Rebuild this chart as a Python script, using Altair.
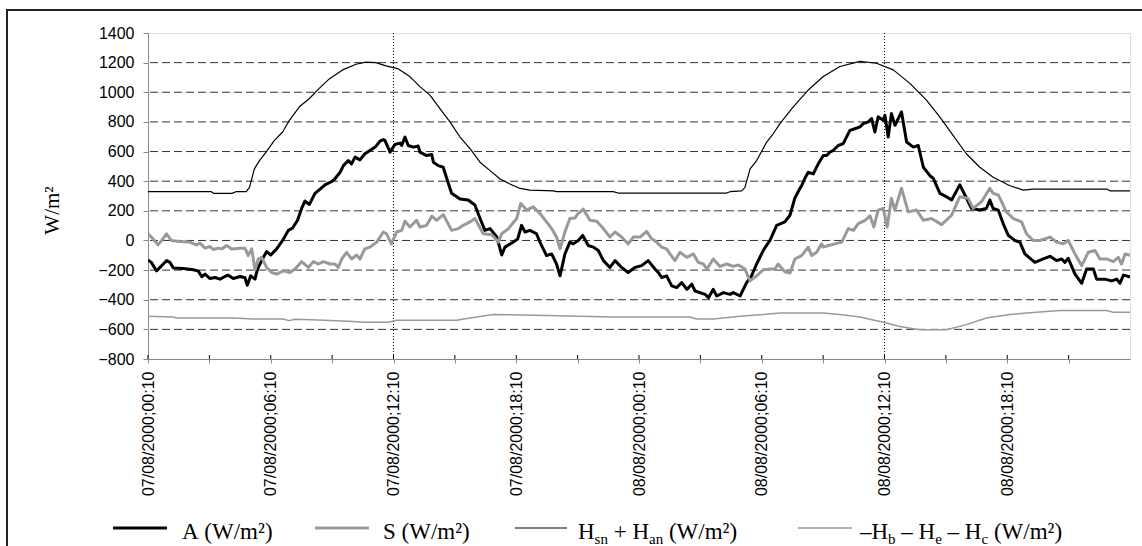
import altair as alt
import pandas as pd

# ---------------- data (hours after 07/08/2000 00:10, W/m2) ----------------
A_h = [0, 0.16, 0.42, 0.75, 0.91, 1.07, 1.24, 1.73, 2.22, 2.46, 2.63, 2.79, 3.03, 3.28, 3.52, 3.76, 3.92,
       4.17, 4.5, 4.74, 4.85, 5.02, 5.23, 5.35, 5.64, 5.8, 6.0, 6.29, 6.58, 6.86, 7.07, 7.31, 7.51, 7.67,
       7.89, 8.16, 8.37, 8.65, 8.98, 9.1, 9.39, 9.55, 9.79, 9.95, 10.12, 10.36, 10.6, 10.85, 11.1, 11.34,
       11.5, 11.58, 11.83, 12.07, 12.32, 12.4, 12.56, 12.72, 12.97, 13.21, 13.29, 13.62, 13.87, 13.95,
       14.19, 14.43, 14.6, 14.84, 15.25, 15.65, 15.98, 16.23, 16.47, 16.72, 17.05, 17.29, 17.45, 17.86,
       18.07, 18.26, 18.43, 18.67, 18.99, 19.16, 19.48, 19.73, 19.97, 20.14, 20.38, 20.62, 20.79, 21.03,
       21.25, 21.52, 21.77, 22.01, 22.26, 22.58, 22.83, 23.15, 23.47, 23.8, 24.13, 24.45, 24.78, 24.94,
       25.11, 25.35, 25.6, 25.84, 26.09, 26.34, 26.58, 26.74, 27.23, 27.4, 27.63, 27.8, 28.13, 28.45,
       28.61, 28.94, 29.26, 29.5, 29.75, 30.07, 30.4, 30.73, 31.13, 31.38, 31.62, 31.87, 31.95, 32.11,
       32.27, 32.52, 32.76, 33.01, 33.17, 33.33, 33.49, 33.74, 33.98, 34.31, 34.55, 34.8, 34.96, 35.21,
       35.37, 35.53, 35.69, 35.94, 36.02, 36.18, 36.34, 36.51, 36.83, 37.08, 37.41, 37.65, 37.9, 38.22,
       38.38, 38.71, 39.03, 39.28, 39.68, 39.93, 40.25, 40.66, 40.98, 41.15, 41.31, 41.56, 41.8, 42.05,
       42.37, 42.62, 42.86, 43.35, 43.76, 44.09, 44.41, 44.66, 44.82, 44.98, 45.31, 45.64, 45.88, 46.21,
       46.37, 46.77, 47.1, 47.35, 47.51, 47.68, 47.84, 48.0]
A_v = [-132, -148, -205, -159, -136, -148, -186, -189, -198, -207, -245, -227, -257, -250, -261, -243, -234,
       -257, -243, -252, -302, -239, -261, -193, -114, -75, -98, -57, 0, 68, 84, 136, 216, 266,
       243, 318, 341, 375, 398, 410, 460, 505, 539, 517, 562, 544, 585, 607, 630, 670,
       680, 675, 596, 648, 657, 641, 698, 641, 630, 637, 596, 573, 580, 528,
       505, 494, 420, 318, 280, 273, 239, 148, 68, 80, 23, -98, -45, -11,
       11, 102, 57, 68, 45, -11, -102, -91, -159, -239, -91, -11, -23, 0,
       34, -34, -45, -68, -136, -182, -136, -182, -216, -182, -170, -136, -193, -216,
       -250, -239, -307, -318, -284, -330, -295, -341, -364, -386, -330, -375, -352, -364,
       -352, -375, -284, -239, -159, -68, 0, 102, 125, 170, 287, 352, 369, 420,
       460, 449, 517, 573, 573, 596, 607, 641, 653, 743, 754, 766, 788, 800,
       822, 732, 834, 811, 845, 698, 856, 777, 868, 664, 630, 641, 494, 437,
       420, 318, 295, 273, 375, 307, 216, 205, 216, 273, 216, 205, 114, 34,
       0, -11, -91, -148, -125, -107, -136, -125, -148, -120, -227, -289, -193, -193,
       -261, -261, -273, -261, -289, -234, -239, -248]

S_h = [0, 0.24, 0.49, 0.73, 0.9, 1.14, 1.55, 2.04, 2.37, 2.54, 2.79, 3.03, 3.19, 3.44, 3.6, 3.85, 4.09,
       4.5, 4.74, 4.9, 5.07, 5.23, 5.39, 5.55, 5.8, 6.04, 6.29, 6.61, 6.94, 7.18, 7.51, 7.84, 8.08, 8.33,
       8.57, 8.9, 9.14, 9.3, 9.47, 9.71, 9.95, 10.2, 10.36, 10.6, 10.85, 11.18, 11.5, 11.66, 11.9, 12.15,
       12.4, 12.56, 12.8, 13.13, 13.29, 13.62, 13.87, 14.11, 14.43, 14.84, 15.17, 15.41, 15.74, 15.98,
       16.39, 16.8, 17.13, 17.29, 17.62, 18.02, 18.22, 18.51, 18.83, 19.16, 19.48, 19.73, 19.97, 20.14,
       20.38, 20.62, 20.87, 21.03, 21.28, 21.6, 21.93, 22.26, 22.58, 22.83, 23.15, 23.47, 23.72, 24.05,
       24.37, 24.62, 24.86, 25.11, 25.35, 25.51, 25.76, 26.0, 26.34, 26.66, 26.9, 27.15, 27.32, 27.63,
       27.96, 28.29, 28.61, 28.86, 29.18, 29.43, 29.75, 30.07, 30.4, 30.64, 30.8, 31.13, 31.38, 31.62,
       31.95, 32.27, 32.44, 32.68, 32.93, 33.01, 33.25, 33.58, 33.91, 34.23, 34.48, 34.72, 35.05, 35.29,
       35.48, 35.69, 35.94, 36.13, 36.34, 36.51, 36.83, 37.16, 37.57, 37.9, 38.3, 38.79, 39.28, 39.68,
       40.09, 40.33, 40.74, 41.15, 41.31, 41.56, 41.96, 42.29, 42.7, 42.94, 43.27, 43.6, 44.09, 44.41,
       44.74, 44.98, 45.31, 45.64, 45.96, 46.29, 46.53, 46.86, 47.18, 47.43, 47.59, 47.76, 48.0]
S_v = [45, 11, -30, 11, 45, 0, -7, -11, -30, -18, -52, -41, -61, -52, -57, -34, -57,
       -52, -52, -102, -57, -198, -125, -114, -182, -216, -227, -205, -216, -193, -143, -182, -143, -159,
       -143, -159, -159, -182, -125, -80, -125, -98, -125, -57, -45, -11, 57, 45, -23, 57,
       68, 130, 91, 136, 91, 102, 164, 136, 175, 68, 80, 102, 125, 148,
       45, 39, -11, 45, 80, 148, 250, 205, 227, 182, 125, 80, 23, -57,
       57, 148, 152, 182, 211, 136, 130, 80, 23, 57, 23, -23, 23, 23,
       61, 11, -11, -45, -57, -91, -136, -80, -114, -91, -148, -159, -193, -125,
       -175, -159, -175, -166, -193, -273, -239, -198, -193, -193, -159, -211, -220, -125,
       -102, -45, -102, -80, -23, -45, -34, -23, -11, 80, 68, 114, 136, 166,
       91, 205, 216, 91, 284, 205, 352, 193, 205, 136, 148, 107, 170, 295,
       284, 216, 261, 352, 318, 307, 193, 148, 125, 45, 0, 0, 23, -11,
       -23, 0, -91, -170, -80, -68, -125, -125, -143, -114, -159, -91, -100]

H_h = [0, 3.1, 3.2, 4.1, 4.3, 4.8, 4.96, 5.2, 5.45, 5.77, 6.18, 6.58, 6.91, 7.4, 7.89, 8.37, 8.86, 9.51,
       10.17, 10.65, 11.14, 11.63, 12.2, 12.8, 13.29, 13.78, 14.27, 14.76, 15.25, 15.74, 16.23, 16.72,
       17.21, 17.69, 18.18, 18.67, 19.81, 19.97, 22.74, 22.98, 28.28, 28.45, 29.02, 29.18, 29.43, 29.75,
       30.24, 30.56, 30.89, 31.54, 32.27, 33.01, 33.82, 34.8, 35.61, 36.43, 37.24, 38.05, 38.7, 39.35,
       40.0, 40.66, 41.31, 42.13, 42.78, 43.27, 46.86, 47.02, 48.0]
H_v = [329, 329, 318, 318, 329, 329, 358, 483, 539, 596, 675, 732, 811, 902, 958, 1026, 1090, 1151,
       1189, 1203, 1200, 1178, 1160, 1106, 1038, 981, 890, 800, 698, 619, 528, 471,
       415, 381, 351, 340, 335, 329, 329, 320, 320, 329, 335, 358, 483, 539,
       664, 720, 788, 902, 1015, 1106, 1174, 1208, 1196, 1151, 1060, 947, 834, 709,
       585, 494, 426, 369, 340, 347, 347, 335, 335]

G_h = [0, 1.24, 1.4, 4.17, 5.15, 6.6, 6.9, 7.2, 8.0, 9.8, 10.6, 11.75, 12.15, 15.09, 15.74, 16.88,
       19.48, 22.74, 26.49, 26.82, 27.63, 28.94, 30.07, 30.89, 33.01, 33.82, 34.8, 36.1, 36.75, 37.73,
       39.03, 40.0, 40.98, 42.13, 42.94, 44.57, 46.86, 47.18, 48.0]
G_v = [-511, -516, -523, -523, -530, -530, -541, -532, -535, -545, -552, -552, -539, -539, -523, -500,
       -507, -516, -516, -530, -530, -511, -500, -489, -489, -500, -516, -557, -580, -602,
       -602, -568, -523, -500, -489, -473, -473, -484, -484]

y_ticks = list(range(-800, 1401, 200))
grid_vals = list(range(-600, 1201, 200))
x_ticks = list(range(0, 48, 3))
noon_marks = [12, 36]

legend_items = [
    ("A", [("A (W/m²)", False)]),
    ("S", [("S (W/m²)", False)]),
    ("H", [("H", False), ("sn", True), (" + H", False), ("an", True), (" (W/m²)", False)]),
    ("G", [("–H", False), ("b", True), (" – H", False), ("e", True), (" – H", False), ("c", True),
           (" (W/m²)", False)]),
]

# ---------------- styling ----------------
GRAY = "#999999"
styles = {"A": ("black", 3.0), "S": (GRAY, 3.0), "H": ("black", 1.2), "G": (GRAY, 1.5)}
PW, PH = 982, 326

xenc = alt.X("h:Q", scale=alt.Scale(domain=[0, 48], nice=False, zero=False),
             axis=alt.Axis(values=x_ticks, title=None, grid=False, labelAngle=-90,
                           labelFont="Liberation Sans", labelFontSize=16, labelColor="black",
                           tickSize=4, labelPadding=8, labelFlush=False, labelOverlap=False,
                           labelExpr="datum.value % 6 == 0 ? ((datum.value < 24 ? '07' : '08') + '/08/2000;' + (datum.value % 24 < 10 ? '0' : '') + (datum.value % 24) + ':10') : ''"))
yenc = alt.Y("v:Q", scale=alt.Scale(domain=[-800, 1400], nice=False, zero=False),
             axis=alt.Axis(values=y_ticks, title="W/m²", grid=False, format="d",
                           labelFont="Liberation Sans", labelFontSize=16, labelColor="black",
                           tickSize=5, labelPadding=9, labelFlush=False,
                           titleFont="Liberation Serif", titleFontSize=21, titleFontWeight="normal",
                           titleColor="black", titleX=-96, titleY=177, titleAlign="center",
                           titleBaseline="middle"))

layers = []
one = pd.DataFrame({"k": [0]})

# outer frame
layers.append(alt.Chart(one).mark_rect(fill="transparent", stroke="#222222", strokeWidth=2).encode(
    x=alt.value(-141), x2=alt.value(1010), y=alt.value(-23), y2=alt.value(600)))

# horizontal dashed grid
layers.append(alt.Chart(pd.DataFrame({"v": grid_vals})).mark_rule(
    color="#333333", strokeWidth=1, strokeDash=[8, 4]).encode(y=yenc))
# dotted noon markers
layers.append(alt.Chart(pd.DataFrame({"h": noon_marks})).mark_rule(
    color="black", strokeWidth=1, strokeDash=[1, 2]).encode(x=xenc))

for key, hh, vv in [("A", A_h, A_v), ("S", S_h, S_v), ("H", H_h, H_v), ("G", G_h, G_v)]:
    col, w = styles[key]
    layers.append(alt.Chart(pd.DataFrame({"h": hh, "v": vv})).mark_line(
        color=col, strokeWidth=w, strokeJoin="round", clip=True).encode(x=xenc, y=yenc))

# inner half of the crossing x-axis ticks
layers.append(alt.Chart(pd.DataFrame({"h": x_ticks})).mark_rule(color="black", strokeWidth=1).encode(
    x=xenc, y=alt.value(PH - 4), y2=alt.value(PH)))

# ---------------- manual legend (below the axis labels) ----------------
EM = {"A": .722, " ": .25, "(": .333, ")": .333, "W": .944, "/": .278, "m": .778, "²": .3,
      "S": .556, "H": .722, "+": .564, "s": .389, "n": .5, "a": .444, "–": .5, "b": .5,
      "e": .444, "c": .444}
FS, SUB = 23, 15
LINE_Y, BASE_Y = 495, 506
sample_x = [(-35, 19, 34), (167, 221, 235), (367, 419, 430), (650, 704, 712)]


def width(txt, size):
    return sum(EM.get(ch, .5) for ch in txt) * size


for (key, segs), (sx0, sx1, tx) in zip(legend_items, sample_x):
    col, w = styles[key]
    layers.append(alt.Chart(one).mark_rule(color=col, strokeWidth=w).encode(
        x=alt.value(sx0), x2=alt.value(sx1), y=alt.value(LINE_Y)))
    cx = tx
    for txt, sub in segs:
        size = SUB if sub else FS
        lead = len(txt) - len(txt.lstrip(" "))
        cx += lead * EM[" "] * size          # leading blanks are advanced, not drawn
        body = txt.lstrip(" ")
        # split at inner blanks too so that no whitespace depends on the renderer
        for k, word in enumerate(body.split(" ")):
            if k > 0:
                cx += EM[" "] * size
            if word:
                layers.append(alt.Chart(one).mark_text(
                    align="left", baseline="alphabetic", font="Liberation Serif", fontSize=size,
                    color="black").encode(x=alt.value(cx), y=alt.value(BASE_Y + (5 if sub else 0)),
                                          text=alt.value(word)))
                cx += width(word, size)

chart = alt.layer(*layers).properties(
    width=PW, height=PH,
    autosize=alt.AutoSizeParams(type="none"),
    padding={"left": 148, "top": 33, "right": 12, "bottom": 187},
).configure_view(stroke="#a0a0a0", strokeWidth=1).configure_axis(
    domainColor="black", tickColor="black", domainWidth=1
).configure(background="white")

chart.save("out.html", embed_options={"renderer": "svg", "actions": False})
